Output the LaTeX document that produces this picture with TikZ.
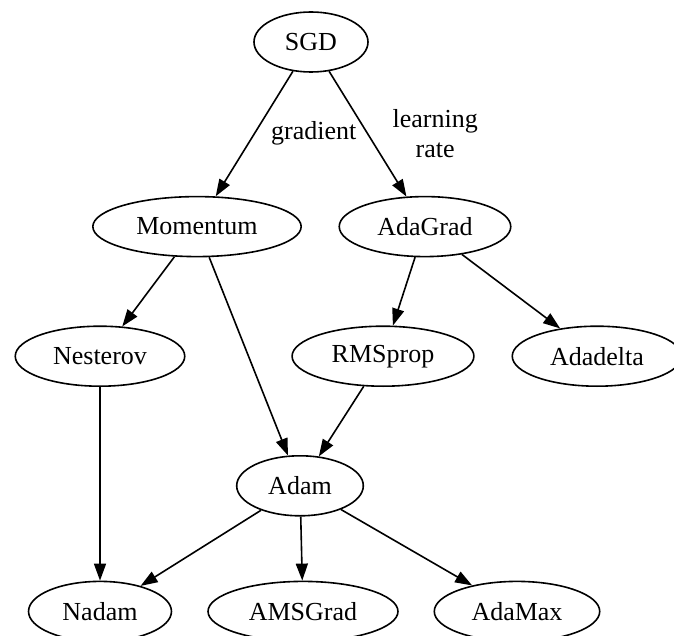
\documentclass[tikz,border=0pt]{standalone}
\usepackage{fontspec}
\setmainfont{Liberation Serif}
\usepackage{tikz}
\usetikzlibrary{arrows.meta,positioning,shapes.geometric}

\begin{document}
\begin{tikzpicture}[
  x=1pt,y=-1pt,
  opt/.style={ellipse,draw,line width=1.6pt,inner xsep=13pt,inner ysep=2pt,minimum width=114pt,minimum height=60pt,font=\fontsize{26}{30}\selectfont},
  lbl/.style={align=center,inner sep=0pt,font=\fontsize{26}{30}\selectfont},
  arr/.style={->,line width=1.6pt,>={Triangle[length=17pt,width=12pt]}}
]
\useasboundingbox (0,0) rectangle (674,636);
\node[opt] (sgd) at (311,42) {SGD};
\node[opt,below=123pt of sgd,xshift=-114pt] (momentum) {Momentum};
\node[opt,below=123pt of sgd,xshift=114pt] (adagrad) {AdaGrad};
\node[opt,below=68pt of momentum,xshift=-97pt] (nesterov) {Nesterov};
\node[opt,below=68pt of adagrad,xshift=-42pt] (rmsprop) {RMSprop};
\node[opt,below=68pt of adagrad,xshift=172pt] (adadelta) {Adadelta};
\node[opt,below=68pt of rmsprop,xshift=-83pt] (adam) {Adam};
\node[opt,below=64pt of adam,xshift=-200pt] (nadam) {Nadam};
\node[opt,below=64pt of adam,xshift=3pt] (amsgrad) {AMSGrad};
\node[opt,below=64pt of adam,xshift=217pt] (adamax) {AdaMax};

\draw[arr] (sgd) -- node[lbl,right=16pt] {gradient} (momentum);
\draw[arr] (sgd) -- node[lbl,right=24pt] {learning\\rate} (adagrad);
\draw[arr] (momentum) -- (nesterov);
\draw[arr] (momentum) -- (adam);
\draw[arr] (adagrad) -- (rmsprop);
\draw[arr] (adagrad) -- (adadelta);
\draw[arr] (rmsprop) -- (adam);
\draw[arr] (nesterov) -- (nadam);
\draw[arr] (adam) -- (nadam);
\draw[arr] (adam) -- (amsgrad);
\draw[arr] (adam) -- (adamax);
\end{tikzpicture}
\end{document}
